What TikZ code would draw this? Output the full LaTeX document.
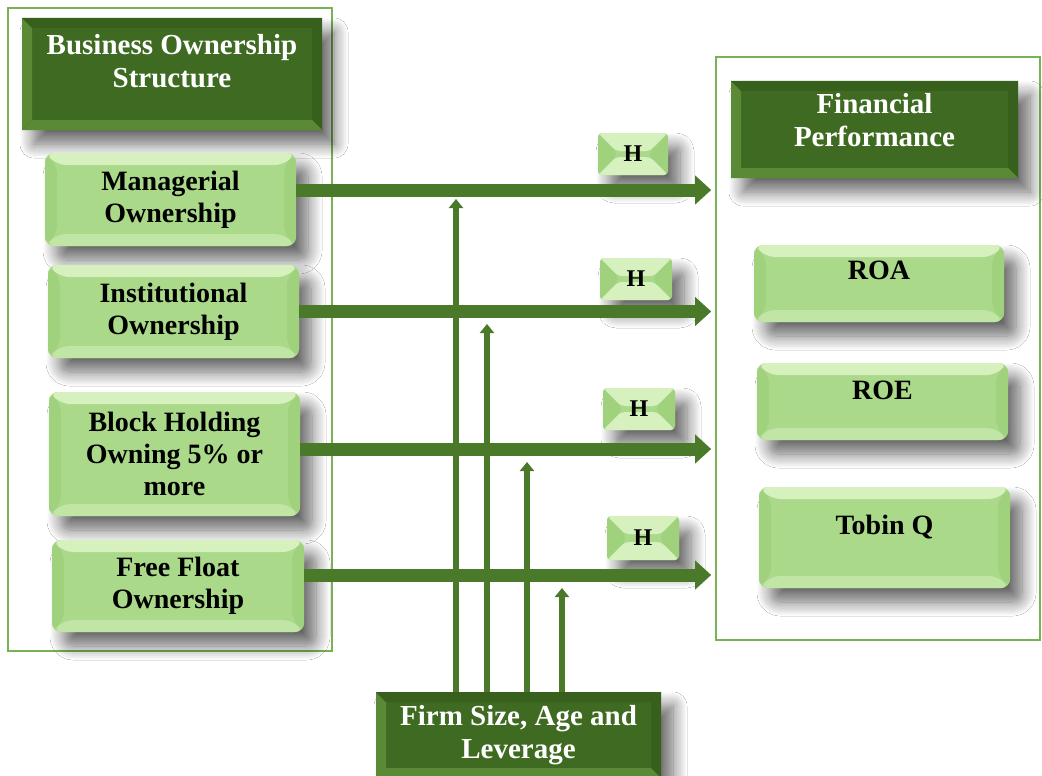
\documentclass[tikz,border=0pt]{standalone}
\usepackage{fontspec}
\setmainfont{Liberation Serif}
\usetikzlibrary{arrows.meta,shadows.blur}

\definecolor{darkgreen}{HTML}{3F6A22}
\definecolor{bevellight}{HTML}{5A8A35}
\definecolor{beveldark}{HTML}{38601D}
\definecolor{lightgreen}{HTML}{AAD98A}
\definecolor{palegreen}{HTML}{D6F1BE}
\definecolor{sidegreen}{HTML}{A0D27E}
\definecolor{framegreen}{HTML}{77B255}
\definecolor{arrowgreen}{HTML}{4A7A29}

% bevel: left, top, right, bottom colour, width
\newcommand\bevelpic[5]{%
  \coordinate (bnw) at (path picture bounding box.north west);
  \coordinate (bne) at (path picture bounding box.north east);
  \coordinate (bsw) at (path picture bounding box.south west);
  \coordinate (bse) at (path picture bounding box.south east);
  \fill[#1] (bnw) -- (bsw) -- ([shift={(#5,#5)}]bsw) -- ([shift={(#5,-#5)}]bnw) -- cycle;
  \fill[#2] (bnw) -- (bne) -- ([shift={(-#5,-#5)}]bne) -- ([shift={(#5,-#5)}]bnw) -- cycle;
  \fill[#3] (bne) -- (bse) -- ([shift={(-#5,#5)}]bse) -- ([shift={(-#5,-#5)}]bne) -- cycle;
  \fill[#4] (bsw) -- (bse) -- ([shift={(-#5,#5)}]bse) -- ([shift={(#5,#5)}]bsw) -- cycle;
}

\tikzset{
  softshadow/.style={blur shadow={shadow xshift=12pt, shadow yshift=-14pt,
      shadow blur radius=14pt, shadow blur steps=14, shadow opacity=60}},
  frame/.style={draw=framegreen, line width=1.6pt},
  headbox/.style={fill=darkgreen, text=white, align=center, softshadow,
      font=\bfseries\fontsize{29}{33}\selectfont,
      path picture={\bevelpic{bevellight}{beveldark}{beveldark}{bevellight}{10pt}}},
  itembox/.style={fill=lightgreen, align=center, rounded corners=9pt, softshadow,
      font=\bfseries\fontsize{28}{32}\selectfont,
      path picture={\bevelpic{sidegreen}{palegreen}{sidegreen}{palegreen!50!lightgreen}{12pt}}},
  hbox/.style={fill=lightgreen, rounded corners=4pt, softshadow,
      minimum width=70pt, minimum height=42pt, text depth=0pt,
      font=\bfseries\fontsize{24}{28}\selectfont,
      path picture={\bevelpic{sidegreen}{palegreen}{sidegreen}{palegreen}{18pt}}},
  bigarrow/.style={draw=arrowgreen, line width=13pt,
      -{Triangle[width=28pt,length=16pt]}},
  thinarrow/.style={draw=arrowgreen, line width=6pt,
      -{Triangle[width=14pt,length=9pt]}},
}

\begin{document}
\begin{tikzpicture}[x=1pt,y=-1pt]
\fill[white] (0,0) rectangle (1042,776);
\useasboundingbox (0,0) rectangle (1042,776);

% frames
\node[frame, minimum width=324pt, minimum height=643pt] (ownframe) at (170,329.5) {};
\node[frame, minimum width=324pt, minimum height=583pt] (perfframe) at (878,348.5) {};

% ownership side
\node[headbox, minimum width=300pt, minimum height=112pt, text depth=26pt] (own) at (172,74)
  {Business Ownership\\Structure};
\node[itembox, minimum width=251pt, minimum height=93pt] (mgr) at (170.5,199.5)
  {Managerial\\Ownership};
\node[itembox, minimum width=251pt, minimum height=93pt] (inst) at (173.5,311.5)
  {Institutional\\Ownership};
\node[itembox, minimum width=251pt, minimum height=124pt] (block) at (174.5,454)
  {Block Holding\\Owning 5\% or\\more};
\node[itembox, minimum width=252pt, minimum height=92pt] (free) at (178,586)
  {Free Float\\Ownership};

% performance side
\node[headbox, minimum width=287pt, minimum height=97pt, text depth=20pt] (perf) at (874.5,129.5)
  {Financial\\Performance};
\node[itembox, minimum width=250pt, minimum height=77pt, text depth=26pt] (roa) at (879,283.5) {ROA};
\node[itembox, minimum width=251pt, minimum height=77pt, text depth=22pt] (roe) at (882.5,401.5) {ROE};
\node[itembox, minimum width=251pt, minimum height=101pt, text depth=26pt] (tobin) at (884.5,537.5) {Tobin Q};

% hypothesis tags
\node[hbox] (h1) at (633,154) {H};
\node[hbox, minimum width=72pt] (h2) at (636,279) {H};
\node[hbox, minimum width=72pt] (h3) at (639,409) {H};
\node[hbox, minimum width=72pt, minimum height=44pt] (h4) at (643,538) {H};

% control variables
\node[headbox, minimum width=285pt, minimum height=86pt] (ctrl) at (518.5,735)
  {Firm Size, Age and\\Leverage};

% moderating arrows
\coordinate (m1) at (456,199);
\coordinate (m2) at (487,324);
\coordinate (m3) at (527,462);
\coordinate (m4) at (562,588);
\draw[thinarrow] (m1 |- ctrl.north) -- (m1);
\draw[thinarrow] (m2 |- ctrl.north) -- (m2);
\draw[thinarrow] (m3 |- ctrl.north) -- (m3);
\draw[thinarrow] (m4 |- ctrl.north) -- (m4);

% direct effects
\draw[bigarrow, shorten >=4pt] ([yshift=9.5pt]mgr.east) -- ([yshift=9.5pt]mgr.east -| perfframe.west);
\draw[bigarrow, shorten >=4pt] (inst.east) -- (inst.east -| perfframe.west);
\draw[bigarrow, shorten >=4pt] ([yshift=5pt]block.east) -- ([yshift=5pt]block.east -| perfframe.west);
\draw[bigarrow, shorten >=4pt] ([yshift=11pt]free.east) -- ([yshift=11pt]free.east -| perfframe.west);
\end{tikzpicture}
\end{document}
